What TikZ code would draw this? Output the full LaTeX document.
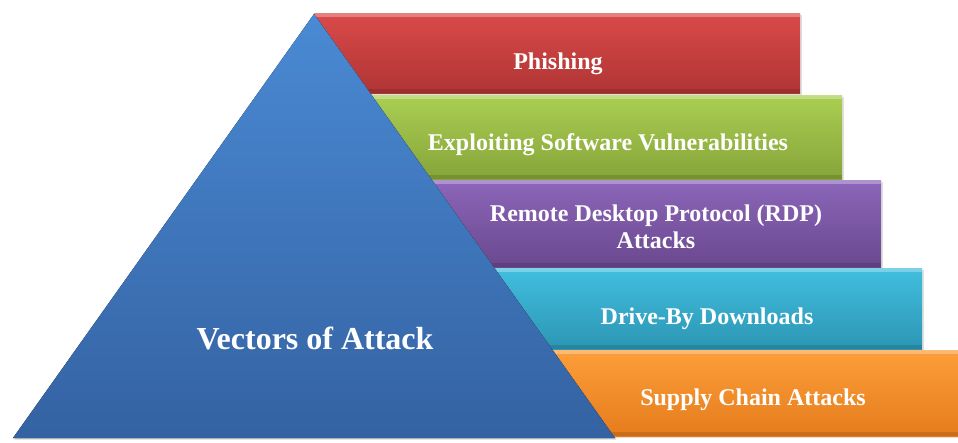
\documentclass[tikz,border=0pt]{standalone}
\usepackage{fontspec}
\setmainfont{Liberation Serif}
\usepackage{xcolor}
\usetikzlibrary{shadows}

\definecolor{redtop}{HTML}{DA4A4A}
\definecolor{redbot}{HTML}{B03434}
\definecolor{greentop}{HTML}{AACE52}
\definecolor{greenbot}{HTML}{86A43A}
\definecolor{purpletop}{HTML}{8C66BA}
\definecolor{purplebot}{HTML}{6A488E}
\definecolor{cyantop}{HTML}{42BEDE}
\definecolor{cyanbot}{HTML}{2C96B4}
\definecolor{orangetop}{HTML}{FC9E3A}
\definecolor{orangebot}{HTML}{E67C1C}
\definecolor{bluetop}{HTML}{4A8AD4}
\definecolor{bluebot}{HTML}{3462A2}

\begin{document}
\begin{tikzpicture}[x=1pt,y=-1pt]
	
	\useasboundingbox (0,0) rectangle (958,442);
	
	\tikzstyle{bar}=[rectangle, anchor=north west, inner sep=0pt,
		drop shadow={opacity=.25, shadow xshift=1.5pt, shadow yshift=-1.5pt},
		path picture={\fill[white,opacity=.3] (path picture bounding box.north west) rectangle ([yshift=-4pt]path picture bounding box.north east);
			\fill[black,opacity=.12] (path picture bounding box.south west) rectangle ([yshift=4pt]path picture bounding box.south east);}]
	\tikzstyle{bartext}=[text=white, font=\fontsize{24}{27}\selectfont\bfseries, align=center, inner sep=0pt]
	
	% bars, from the top down
	\node[bar, top color=redtop, bottom color=redbot, minimum width=486pt, minimum height=80pt] (phishing) at (314,13) {};
	\node[bar, top color=greentop, bottom color=greenbot, minimum width=471pt, minimum height=84pt] (exploit) at (371,95) {};
	\node[bar, top color=purpletop, bottom color=purplebot, minimum width=449pt, minimum height=87pt] (rdp) at (432,180) {};
	\node[bar, top color=cyantop, bottom color=cyanbot, minimum width=428pt, minimum height=81pt] (driveby) at (494,268) {};
	\node[bar, top color=orangetop, bottom color=orangebot, minimum width=406pt, minimum height=86pt] (supply) at (552,350) {};
	
	\node[bartext, anchor=base] (phishingtext) at (558,69) {Phishing};
	\node[bartext, anchor=base] (exploittext) at (608,150) {Exploiting Software Vulnerabilities};
	\node[bartext] (rdptext) at (656,227) {Remote Desktop Protocol (RDP)\\Attacks};
	\node[bartext, anchor=base] (drivebytext) at (707,324) {Drive-By Downloads};
	\node[bartext, anchor=base] (supplytext) at (753,405) {Supply Chain Attacks};
	
	% pyramid
	\coordinate (apex) at (314,14);
	\coordinate (baseL) at (13,438);
	\coordinate (baseR) at (615,438);
	\fill[top color=bluetop, bottom color=bluebot, drop shadow={opacity=.3, shadow xshift=1.5pt, shadow yshift=-1.5pt}] (apex) -- (baseL) -- (baseR) -- cycle;
	
	\node[text=white, font=\fontsize{32}{36}\selectfont\bfseries, anchor=base] (vectors) at (315,349) {Vectors of Attack};
	
\end{tikzpicture}
\end{document}
